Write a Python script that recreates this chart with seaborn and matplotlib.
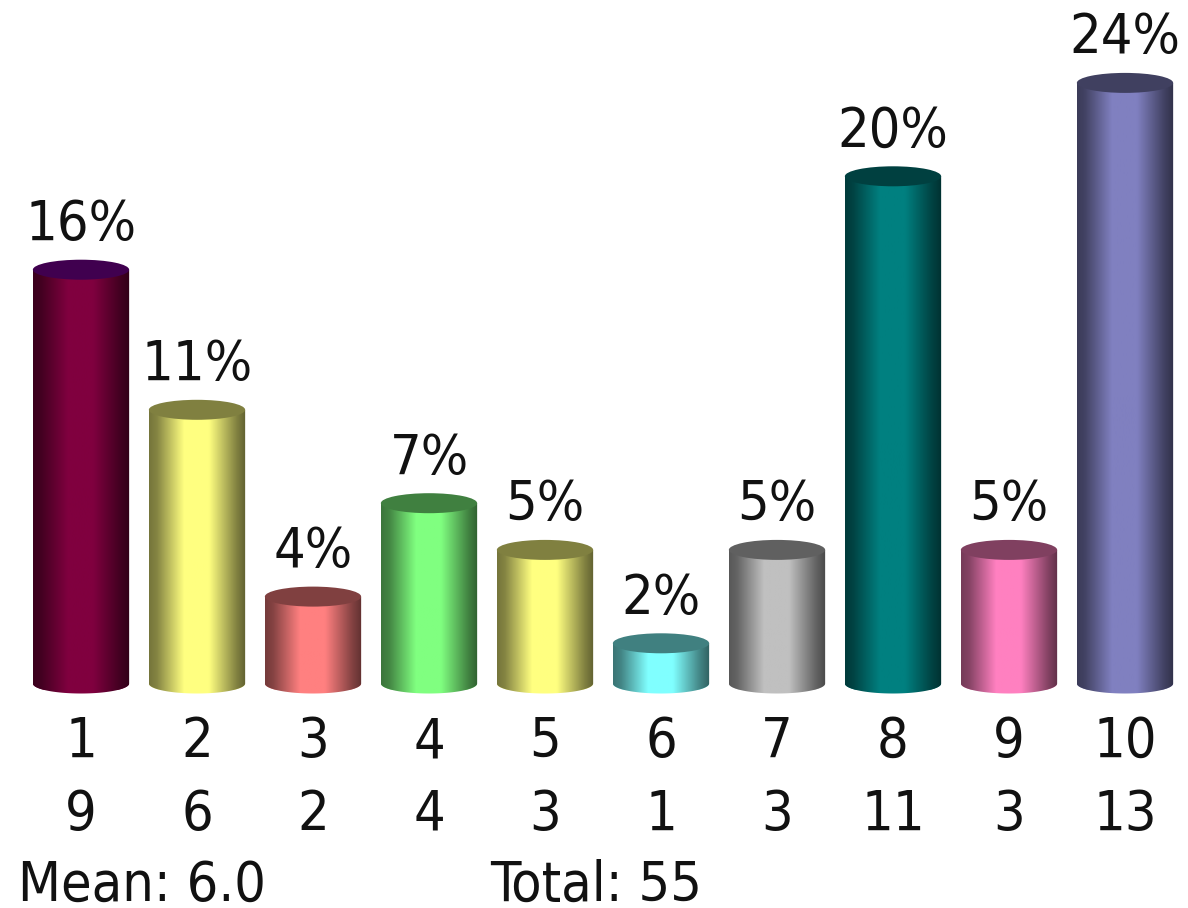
import numpy as np
import matplotlib
matplotlib.use("Agg")
import matplotlib.pyplot as plt
from matplotlib.colors import to_rgb
from matplotlib.patches import Ellipse, PathPatch
from matplotlib.path import Path
from matplotlib.transforms import blended_transform_factory
import seaborn as sns

categories = ["1", "2", "3", "4", "5", "6", "7", "8", "9", "10"]
counts = [9, 6, 2, 4, 3, 1, 3, 11, 3, 13]
percent_labels = ["16%", "11%", "4%", "7%", "5%", "2%", "5%", "20%", "5%", "24%"]
mean_label = "Mean: 6.0"
total_label = "Total: 55"

body_colors = ["#80003f", "#ffff80", "#ff8080", "#80ff80", "#ffff80",
               "#80ffff", "#c0c0c0", "#008080", "#ff80c0", "#8080c0"]
cap_colors = ["#40004f", "#808040", "#804040", "#408040", "#808040",
              "#408080", "#606060", "#004040", "#804060", "#404060"]

W, H = 1188, 908
BAR_WIDTH = 0.83
PX_PER_X = 116.0
PX_PER_COUNT = 46.7
CAP_HEIGHT = 20.0 / PX_PER_COUNT
BASE_LIFT = 6.5 / PX_PER_COUNT
FONT = dict(family="DejaVu Sans", stretch="condensed", fontsize=40, color="#111111")

sns.set_theme(style="white")
fig = plt.figure(figsize=(W / 100, H / 100), dpi=100, facecolor="white")
ax = fig.add_axes([0, 0, 1, 1])

sns.barplot(x=categories, y=counts, hue=categories, order=categories,
            hue_order=categories, palette=body_colors, dodge=False,
            legend=False, width=BAR_WIDTH, ax=ax, saturation=1, linewidth=0)

xlim = (-81 / PX_PER_X, (W - 81) / PX_PER_X)
ylim = ((690 - H) / PX_PER_COUNT, 690 / PX_PER_COUNT)

knots_t = [0.0, 0.08, 0.36, 0.62, 0.90, 1.0]
knots_f = [0.46, 0.52, 1.0, 1.0, 0.52, 0.38]
t = np.linspace(0, 1, 128)
shade = np.interp(t, knots_t, knots_f)

bars = [c for container in ax.containers for c in container]
for bar, body, cap in zip(bars, body_colors, cap_colors):
    x0, w, top = bar.get_x(), bar.get_width(), bar.get_height()
    cx = x0 + w / 2
    base = BASE_LIFT
    th = np.linspace(np.pi, 2 * np.pi, 60)
    bx = cx + (w / 2) * np.cos(th)
    by = base + (CAP_HEIGHT / 2) * np.sin(th)
    verts = [(x0, top)] + list(zip(bx, by)) + [(x0 + w, top), (x0, top)]
    outline = PathPatch(Path(verts), transform=ax.transData, facecolor="none", edgecolor="none")
    ax.add_patch(outline)
    bar.set_clip_path(outline)
    grad = shade[None, :, None] * np.array(to_rgb(body))[None, None, :]
    im = ax.imshow(grad, extent=(x0, x0 + w, base - CAP_HEIGHT, top), aspect="auto",
                   interpolation="bilinear", zorder=3)
    im.set_clip_path(outline)
    ax.add_patch(Ellipse((cx, top), w, CAP_HEIGHT, facecolor=cap, edgecolor="none", zorder=4))

for i, (value, label) in enumerate(zip(counts, percent_labels)):
    ax.annotate(label, (i, value), xytext=(0, 32), textcoords="offset points",
                ha="center", va="center", zorder=5, **FONT)

trans = blended_transform_factory(ax.transData, ax.transAxes)
for i, (cat, value) in enumerate(zip(categories, counts)):
    ax.text(i, 1 - 742 / H, cat, transform=trans, ha="center", va="center", **FONT)
    ax.text(i, 1 - 815 / H, str(value), transform=trans, ha="center", va="center", **FONT)

fig.text(18 / W, 1 - 886 / H, mean_label, ha="left", va="center", **FONT)
fig.text(490 / W, 1 - 886 / H, total_label, ha="left", va="center", **FONT)

ax.set_xlim(*xlim)
ax.set_ylim(*ylim)
ax.axis("off")
fig.savefig("out.png", dpi=100, facecolor="white")
